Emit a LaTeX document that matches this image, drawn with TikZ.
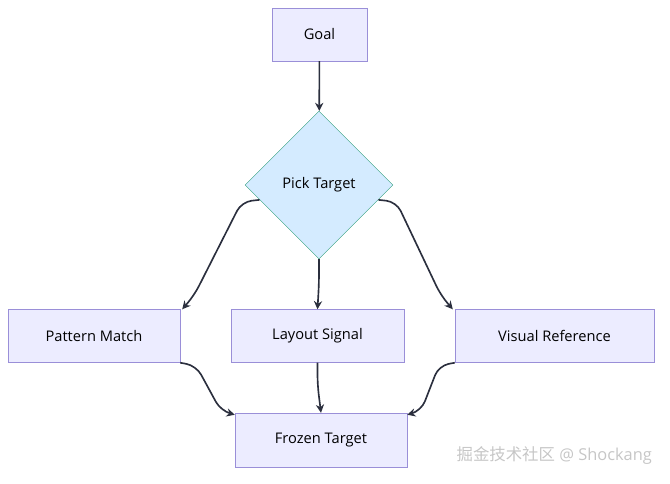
\documentclass[tikz,border=0pt]{standalone}
\usepackage{fontspec}
\setmainfont{Open Sans}
\newfontfamily\cjk{Noto Sans CJK SC}
\usetikzlibrary{arrows.meta}
\usetikzlibrary{calc}
\usetikzlibrary{positioning}
\usetikzlibrary{shapes.geometric}

\definecolor{boxfill}{HTML}{ECECFF}
\definecolor{boxline}{HTML}{9A8FD8}
\definecolor{pickfill}{HTML}{D4EBFF}
\definecolor{pickline}{HTML}{2E9E7A}
\definecolor{flowline}{HTML}{2B2F3E}

\tikzset{
  stage/.style={draw=boxline,fill=boxfill,rectangle,minimum height=53*0.03cm,font=\fontsize{12.5}{14}\selectfont},
  choice/.style={draw=pickline,fill=pickfill,diamond,aspect=1,minimum size=148*0.03cm,inner sep=0pt,font=\fontsize{12.5}{14}\selectfont},
  flow/.style={draw=flowline,line width=1.4pt,rounded corners=10*0.03cm,-{Stealth[length=7pt,width=7pt]}}
}

\begin{document}
\begin{tikzpicture}[x=0.03cm,y=-0.03cm]

  \useasboundingbox (0,0) rectangle (670,484);

  \node [stage,minimum width=95*0.03cm] (goal) at (319.5,34.5) {Goal};
  \node [choice] (pick) at (319,185) {Pick Target};

  \node [stage,minimum width=172*0.03cm] (pattern) at (94,336) {Pattern Match};
  \node [stage,minimum width=173*0.03cm] (layout) at (317.5,336) {Layout Signal};
  \node [stage,minimum width=199*0.03cm] (visual) at (554.5,336) {Visual Reference};

  \node [stage,minimum width=172*0.03cm,minimum height=54*0.03cm] (frozen) at (321,440) {Frozen Target};

  \path [flow] (goal) -- (pick);

  \path [flow] ($(pick.west)!0.2!(pick.south)$) -- ++(-18,2)
    -- ($(pattern.north east)+(14,-14)$) -- ($(pattern.north east)+(2,0)$);
  \path [flow] (pick.south) -- ++(0,24) -- (layout.north);
  \path [flow] ($(pick.east)!0.2!(pick.south)$) -- ++(18,2)
    -- ($(visual.north west)+(-14,-14)$) -- ($(visual.north west)+(-2,0)$);

  \path [flow] (pattern.south east) -- ++(16,3)
    -- ($(frozen.north west)+(-14,-2)$) -- ($(frozen.north west)+(0,2)$);
  \path [flow] (layout.south) -- ++(0,22) -- (frozen.north);
  \path [flow] (visual.south west) -- ++(-16,3)
    -- ($(frozen.north east)+(14,-2)$) -- ($(frozen.north east)+(0,2)$);

  \node [text=gray!45,font=\fontsize{14}{16}\selectfont,anchor=east] (mark) at (656,456) {{\cjk 掘金技术社区} @ Shockang};

\end{tikzpicture}
\end{document}
